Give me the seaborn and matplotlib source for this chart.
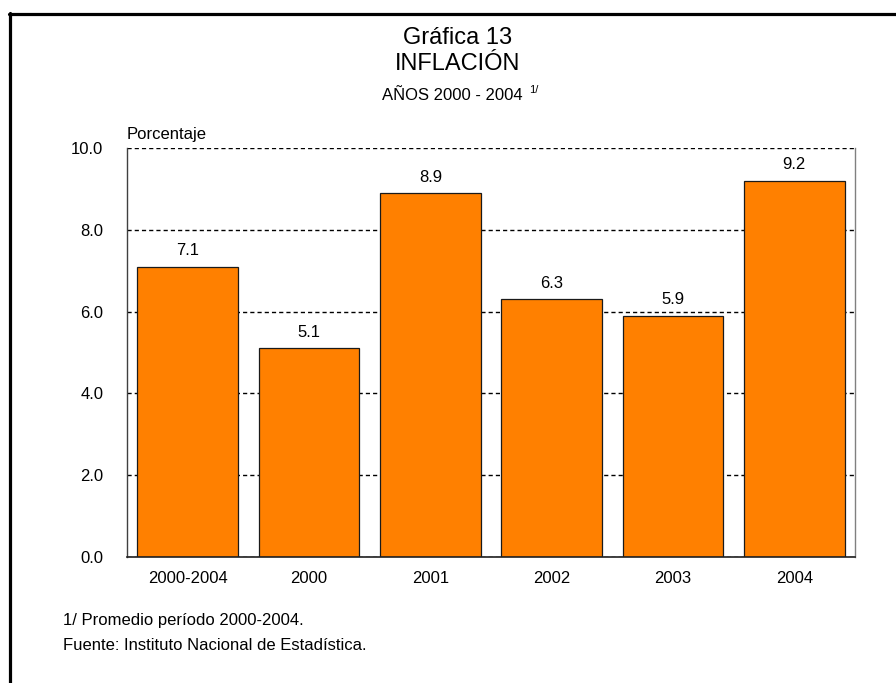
import matplotlib
matplotlib.use("Agg")
import matplotlib.pyplot as plt
from matplotlib.lines import Line2D
import seaborn as sns
import pandas as pd

categories = ["2000-2004", "2000", "2001", "2002", "2003", "2004"]
values = [7.1, 5.1, 8.9, 6.3, 5.9, 9.2]
yticks = [0, 2, 4, 6, 8, 10]
ytick_labels = ["0.0", "2.0", "4.0", "6.0", "8.0", "10.0"]

sns.set_theme(style="white")
plt.rcParams["font.family"] = ["Liberation Sans", "DejaVu Sans"]
plt.rcParams["text.color"] = "black"

W, H = 896, 683
fig = plt.figure(figsize=(W / 100, H / 100), dpi=100)
fig.patch.set_facecolor("white")

def fx(px):
    return px / W

def fy(py):
    return 1 - py / H

ax = fig.add_axes([fx(127), fy(557), fx(855) - fx(127), fy(148) - fy(557)])

df = pd.DataFrame({"cat": categories, "val": values})
sns.barplot(data=df, x="cat", y="val", color="#FF8000", saturation=1,
            width=0.83, edgecolor="#1a1a1a", linewidth=0.9, ax=ax, zorder=2)

ax.set_ylim(0, 10)
ax.set_yticks(yticks)
ax.set_yticklabels(ytick_labels)
ax.set_xlabel("")
ax.set_ylabel("")
ax.tick_params(axis="both", length=0, labelsize=12, colors="black")
ax.tick_params(axis="y", pad=17)
ax.tick_params(axis="x", pad=10)

ax.set_axisbelow(True)
ax.yaxis.grid(True, color="black", linestyle=(0, (3, 2.2)), linewidth=1.0)
ax.xaxis.grid(False)

ax.spines["top"].set_visible(False)
ax.spines["bottom"].set_visible(True)
ax.spines["bottom"].set_color("#202020")
ax.spines["bottom"].set_linewidth(1.2)
for side in ["left", "right"]:
    ax.spines[side].set_visible(True)
    ax.spines[side].set_color("#808080")
    ax.spines[side].set_linewidth(1.0)
ax.spines["left"].set_color("#404040")

for container in ax.containers:
    ax.bar_label(container, labels=[f"{v:.1f}" for v in values],
                 padding=6, fontsize=12, color="black")

# Titles
fig.text(fx(458), fy(38), "Gráfica 13", ha="center", va="center", fontsize=17)
fig.text(fx(458), fy(64), "INFLACIÓN", ha="center", va="center", fontsize=17)
fig.text(fx(452), fy(96), "AÑOS 2000 - 2004", ha="center", va="center", fontsize=12)
fig.text(fx(529), fy(90), "1/", ha="left", va="center", fontsize=8)

fig.text(fx(127), fy(134), "Porcentaje", ha="left", va="center", fontsize=12)

fig.text(fx(63), fy(620), "1/ Promedio período 2000-2004.", ha="left", va="center", fontsize=12)
fig.text(fx(63), fy(645), "Fuente: Instituto Nacional de Estadística.", ha="left", va="center", fontsize=12)

# Frame lines (top and left)
fig.add_artist(Line2D([fx(9), 1.0], [fy(13.5), fy(13.5)], color="black", linewidth=2.3))
fig.add_artist(Line2D([fx(10), fx(10)], [fy(12.5), 0.0], color="black", linewidth=2.3))

fig.savefig("out.png", dpi=100, facecolor="white")
